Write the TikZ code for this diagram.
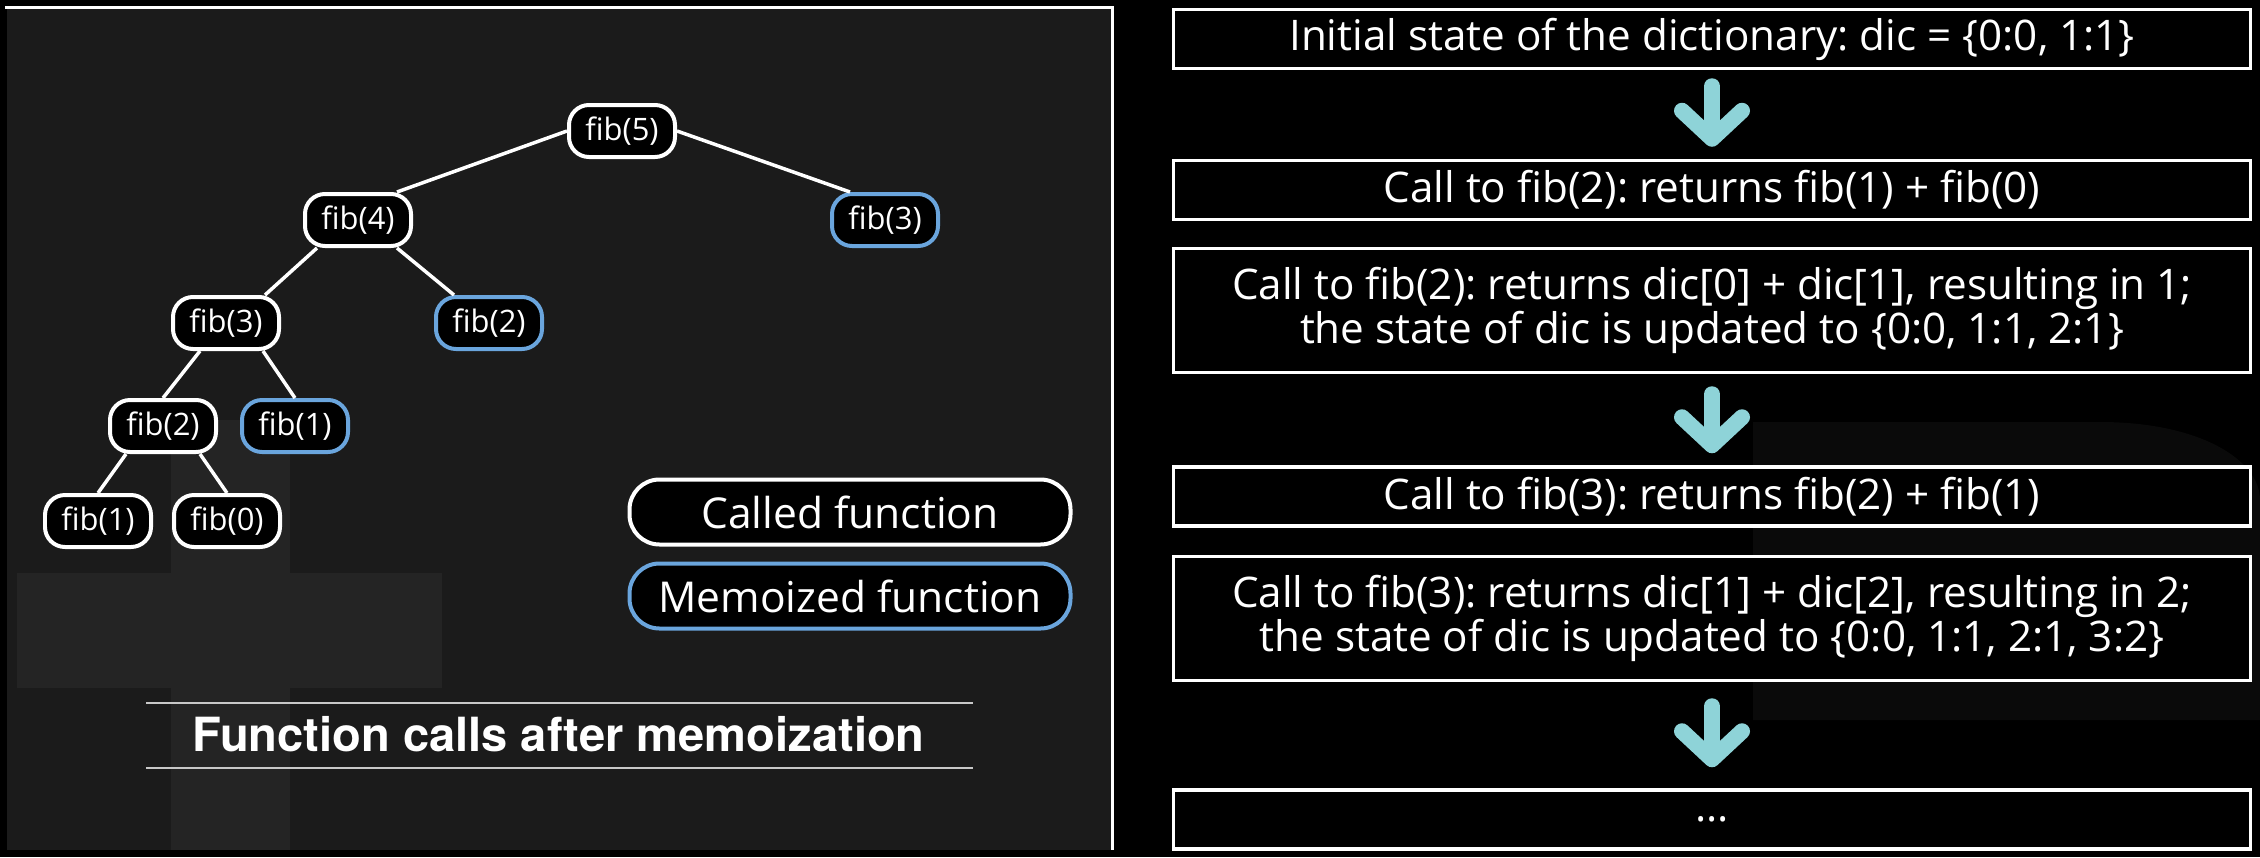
\documentclass[tikz,border=0pt]{standalone}
\usepackage{fontspec}
\setmainfont{Open Sans}
\newfontfamily\capfont{TeX Gyre Heros}
\usetikzlibrary{arrows.meta,positioning}
\frenchspacing

\definecolor{panelgray}{HTML}{1B1B1B}
\definecolor{crossgray}{HTML}{242424}
\definecolor{faintgray}{HTML}{0A0A0A}
\definecolor{memoblue}{HTML}{6AA5DD}
\definecolor{arrowcyan}{HTML}{8ED3D8}
\definecolor{capgray}{HTML}{C8C8C8}

\tikzset{
  callnode/.style={rectangle,rounded corners=0.2cm,draw=white,fill=black,line width=0.04cm,
    text=white,minimum width=1.06cm,minimum height=0.52cm,inner sep=0pt,
    font=\fontsize{8.8}{10}\selectfont},
  memonode/.style={callnode,draw=memoblue},
  legendbox/.style={rectangle,rounded corners=0.3cm,draw=white,fill=black,line width=0.04cm,
    text=white,minimum width=4.41cm,minimum height=0.65cm,inner sep=0pt,
    font=\fontsize{12.1}{14}\selectfont},
  stepbox/.style={rectangle,draw=white,fill=black,line width=0.035cm,text=white,
    minimum width=10.77cm,minimum height=0.59cm,inner sep=0pt,align=center,
    font=\fontsize{12}{12.6}\selectfont},
  treeline/.style={white,line width=0.035cm},
  capline/.style={capgray,line width=0.02cm},
  flow/.style={arrowcyan,line width=0.16cm,line cap=round,
    -{Straight Barb[round,length=0.28cm,width=0.6cm]}}
}

\begin{document}
\begin{tikzpicture}
\fill[black] (0,0) rectangle (22.6,-8.57);
\useasboundingbox (0,0) rectangle (22.6,-8.57);

% left panel
\fill[panelgray] (0.07,-0.07) rectangle (11.12,-8.50);
\fill[crossgray] (1.71,-4.20) rectangle (2.90,-8.50);
\fill[crossgray] (0.17,-5.73) rectangle (4.42,-6.88);
\draw[white,line width=0.03cm] (0.05,-0.07) -- (11.12,-0.07) -- (11.12,-8.50);
\fill[faintgray] (17.53,-4.22) -- (21.0,-4.22) .. controls (22.0,-4.22) and (22.6,-4.6) .. (22.6,-5.0)
  -- (22.6,-7.2) -- (17.53,-7.2) -- cycle;

% call tree
\node[callnode] (f5) at (6.22,-1.31) {fib(5)};
\node[callnode] (f4) at (3.58,-2.20) {fib(4)};
\node[memonode] (f3b) at (8.85,-2.20) {fib(3)};
\node[callnode] (f3) at (2.26,-3.23) {fib(3)};
\node[memonode] (f2b) at (4.89,-3.23) {fib(2)};
\node[callnode] (f2) at (1.63,-4.26) {fib(2)};
\node[memonode] (f1b) at (2.95,-4.26) {fib(1)};
\node[callnode] (f1) at (0.98,-5.21) {fib(1)};
\node[callnode] (f0) at (2.27,-5.21) {fib(0)};

\draw[treeline] (f5.west) -- ([xshift=-0.16cm]f4.north east);
\draw[treeline] (f5.east) -- ([xshift=0.2cm]f3b.north west);
\draw[treeline] ([xshift=0.14cm]f4.south west) -- ([xshift=-0.16cm]f3.north east);
\draw[treeline] ([xshift=-0.16cm]f4.south east) -- ([xshift=0.2cm]f2b.north west);
\draw[treeline] ([xshift=0.29cm]f3.south west) -- (f2.north);
\draw[treeline] ([xshift=-0.18cm]f3.south east) -- (f1b.north);
\draw[treeline] ([xshift=0.18cm]f2.south west) -- (f1.north);
\draw[treeline] ([xshift=-0.18cm]f2.south east) -- (f0.north);

% legend
\node[legendbox] (called) at (8.50,-5.12) {Called function};
\node[legendbox,draw=memoblue] (memoized) at (8.50,-5.96) {Memoized function};

% caption
\draw[capline] (1.46,-7.03) -- (9.73,-7.03);
\draw[capline] (1.46,-7.68) -- (9.73,-7.68);
\node[text=white,font=\capfont\bfseries\fontsize{13.4}{15}\selectfont] (caption) at (5.585,-7.34)
  {Function calls after memoization};

% dictionary steps
\node[stepbox] (b1) at (17.12,-0.39) {Initial state of the dictionary: dic = \{0:0, 1:1\}};
\node[stepbox] (b2) at (17.12,-1.90) {Call to fib(2): returns fib(1) + fib(0)};
\node[stepbox,minimum height=1.24cm] (b3) at (17.12,-3.105)
  {Call to fib(2): returns dic[0] + dic[1], resulting in 1;\\the state of dic is updated to \{0:0, 1:1, 2:1\}};
\node[stepbox] (b4) at (17.12,-4.965) {Call to fib(3): returns fib(2) + fib(1)};
\node[stepbox,minimum height=1.24cm] (b5) at (17.12,-6.185)
  {Call to fib(3): returns dic[1] + dic[2], resulting in 2;\\the state of dic is updated to \{0:0, 1:1, 2:1, 3:2\}};
\node[stepbox] (b6) at (17.12,-8.195) {...};

\draw[flow] ([yshift=-0.16cm]b1.south) -- ([yshift=0.12cm]b2.north);
\draw[flow] ([yshift=-0.20cm]b3.south) -- ([yshift=0.12cm]b4.north);
\draw[flow] ([yshift=-0.24cm]b5.south) -- ([yshift=0.21cm]b6.north);
\end{tikzpicture}
\end{document}
